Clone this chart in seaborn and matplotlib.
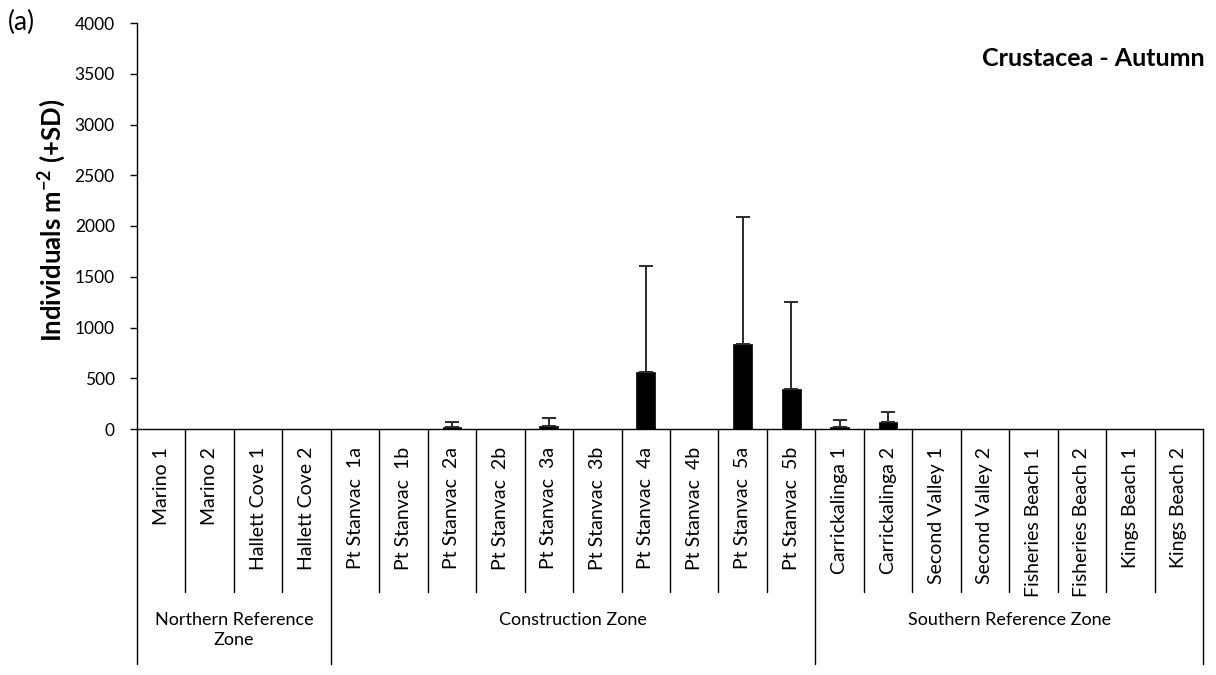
import matplotlib
matplotlib.use("Agg")
import matplotlib.pyplot as plt
import matplotlib.transforms as mtransforms
import numpy as np
import pandas as pd
import seaborn as sns

sites = [
    "Marino 1", "Marino 2", "Hallett Cove 1", "Hallett Cove 2",
    "Pt Stanvac  1a", "Pt Stanvac  1b", "Pt Stanvac  2a", "Pt Stanvac  2b",
    "Pt Stanvac  3a", "Pt Stanvac  3b", "Pt Stanvac  4a", "Pt Stanvac  4b",
    "Pt Stanvac  5a", "Pt Stanvac  5b",
    "Carrickalinga 1", "Carrickalinga 2", "Second Valley 1", "Second Valley 2",
    "Fisheries Beach 1", "Fisheries Beach 2", "Kings Beach 1", "Kings Beach 2",
]
mean_density = [0, 0, 1, 2, 2, 3, 20, 3, 33, 3, 559, 3, 837, 397,
                20, 66, 3, 3, 0, 3, 0, 0]
sd_density = [0, 0, 0, 0, 0, 0, 50, 0, 72, 0, 1050, 0, 1255, 857,
              70, 99, 0, 0, 0, 0, 0, 0]
zone_names = ["Northern Reference\nZone", "Construction Zone", "Southern Reference Zone"]
zone_sizes = [4, 10, 8]

df = pd.DataFrame({"site": sites, "mean": mean_density, "sd": sd_density})

sns.set_theme(style="white")
plt.rcParams["font.family"] = ["Lato", "DejaVu Sans"]
plt.rcParams["mathtext.fontset"] = "custom"
plt.rcParams["mathtext.rm"] = "Lato"
plt.rcParams["mathtext.bf"] = "Lato:bold"

W, H = 1216, 675
fig = plt.figure(figsize=(W / 100, H / 100), dpi=100)
ax_left, ax_right, ax_bottom, ax_top = 137, 1203, 429, 23
ax = fig.add_axes([ax_left / W, 1 - ax_bottom / H,
                   (ax_right - ax_left) / W, (ax_bottom - ax_top) / H])

sns.barplot(data=df, x="site", y="mean", color="black", width=0.39,
            saturation=1, errorbar=None, ax=ax, zorder=2)
for p in ax.patches:
    p.set_edgecolor("black")
    p.set_linewidth(0.5)

# upward standard deviation bars
xpos = np.arange(len(sites))
sd_arr = np.array(sd_density, dtype=float)
mask = sd_arr > 0
ax.errorbar(xpos[mask], np.array(mean_density, dtype=float)[mask],
            yerr=[np.zeros(mask.sum()), sd_arr[mask]], fmt="none",
            ecolor="#2b2b2b", elinewidth=1.4, capsize=5, capthick=1.4, zorder=3)

ax.set_xlim(-0.5, len(sites) - 0.5)
ax.set_ylim(0, 4000)
ax.set_yticks(np.arange(0, 4001, 500))
ax.tick_params(axis="y", direction="out", length=5, width=1, color="black",
               pad=11, labelsize=12.5, labelcolor="black", left=True)
ax.set_xticks([])
ax.set_xlabel("")
ax.set_ylabel("")
for side in ["top", "right"]:
    ax.spines[side].set_visible(False)
for side in ["left", "bottom"]:
    ax.spines[side].set_color("black")
    ax.spines[side].set_linewidth(1)

def yfrac(py):
    return (ax_bottom - py) / (ax_bottom - ax_top)

trans = mtransforms.blended_transform_factory(ax.transData, ax.transAxes)

# category separators and site labels
group_edges = np.cumsum([0] + zone_sizes)
for b in range(len(sites) + 1):
    end = 664 if b in group_edges else 592
    ax.plot([b - 0.5, b - 0.5], [0, yfrac(end)], color="black", lw=1,
            transform=trans, clip_on=False)
for i, name in enumerate(sites):
    ax.text(i, yfrac(447), name, rotation=90, ha="center", va="top",
            fontsize=14, color="black", transform=trans)

# zone labels
for k, zname in enumerate(zone_names):
    center = (group_edges[k] + group_edges[k + 1]) / 2 - 0.5
    ax.text(center, yfrac(612), zname, ha="center", va="top",
            fontsize=13, color="black", linespacing=1.3, transform=trans)

fig.text(52 / W, 1 - 220 / H, r"Individuals m$^{\mathbf{-2}}$ (+SD)",
         rotation=90, ha="center", va="center", fontsize=18.5,
         fontweight="bold", color="black")
fig.text(1205 / W, 1 - 59 / H, "Crustacea - Autumn", ha="right", va="center",
         fontsize=18, fontweight="bold", color="black")
fig.text(8 / W, 1 - 22 / H, "(a)", ha="left", va="center", fontsize=19,
         color="black")

fig.savefig("out.png", dpi=100, facecolor="white")
